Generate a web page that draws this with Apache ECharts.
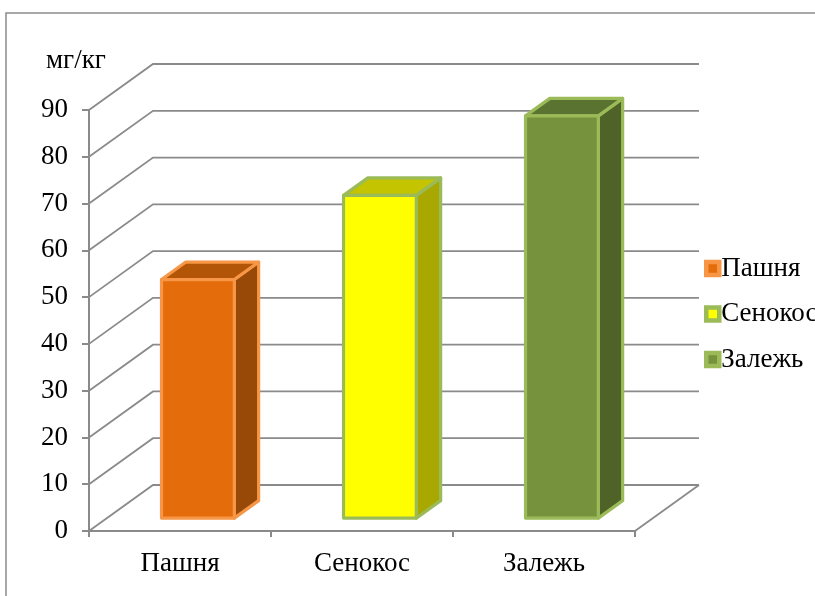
<!DOCTYPE html>
<html>
<head>
<meta charset="utf-8">
<script src="https://cdn.jsdelivr.net/npm/echarts@6/dist/echarts.min.js"></script>
<style>
html,body{margin:0;padding:0;background:#fff;}
#chart{width:815px;height:596px;}
</style>
</head>
<body>
<div id="chart"></div>
<script>
// ---- data ----
const categories = ['Пашня', 'Сенокос', 'Залежь'];
const values = [51, 69, 86];
const yTicks = [0, 10, 20, 30, 40, 50, 60, 70, 80, 90];
const unitLabel = 'мг/кг';

// ---- styles ----
const frontColors = ['#E46C0A', '#FFFF00', '#76923C'];
const topColors = ['#B35507', '#C4C400', '#5B7330'];
const sideColors = ['#984807', '#A8A800', '#4F6228'];
const borderColors = ['#F79646', '#9BBB59', '#9BBB59'];
const FONT = '"Liberation Serif", "Times New Roman", serif';
const FS = 27;
const GRID_COLOR = '#8a8a8a';
const DX = 64, DY = -46;       // wall depth offset in px
const F1 = 0.28, F2 = 0.66;    // bar depth fractions
const BAR_W = 0.4;             // bar width as fraction of band

const chart = echarts.init(document.getElementById('chart'), null, {renderer: 'canvas'});

const wallSeries = {
  type: 'custom',
  name: '__wall',
  z: 1,
  clip: false,
  silent: true,
  data: yTicks.map(v => [0, v]),
  renderItem: function (params, api) {
    const v = api.value(1);
    const c = api.coord([0, v]);
    const bw = api.size([1, 0])[0];
    const left = c[0] - bw / 2;
    const right = left + bw * categories.length;
    const children = [{
      type: 'polyline',
      shape: {points: [[left, c[1]], [left + DX, c[1] + DY], [right + DX, c[1] + DY]]},
      style: {stroke: GRID_COLOR, lineWidth: 1.8, fill: null}
    }];
    if (v === 0) {
      children.push({
        type: 'line',
        shape: {x1: right, y1: c[1], x2: right + DX, y2: c[1] + DY},
        style: {stroke: GRID_COLOR, lineWidth: 1.8}
      });
    }
    return {type: 'group', children: children};
  }
};

function barSeries(i) {
  return {
    type: 'custom',
    name: categories[i],
    z: 5,
    clip: false,
    itemStyle: {color: frontColors[i], borderColor: borderColors[i]},
    data: [[i, values[i]]],
    renderItem: function (params, api) {
      const idx = api.value(0);
      const val = api.value(1);
      const c0 = api.coord([idx, 0]);
      const c1 = api.coord([idx, val]);
      const bw = api.size([1, 0])[0];
      const w = bw * BAR_W;
      const cx = c0[0] + F1 * DX;
      const x0 = cx - w / 2, x1 = cx + w / 2;
      const yb = c0[1] + F1 * DY, yt = c1[1] + F1 * DY;
      const ddx = (F2 - F1) * DX, ddy = (F2 - F1) * DY;
      const stroke = {stroke: borderColors[i], lineWidth: 3.2, lineJoin: 'round'};
      return {
        type: 'group',
        children: [
          {type: 'polygon', shape: {points: [[x1, yt], [x1 + ddx, yt + ddy], [x1 + ddx, yb + ddy], [x1, yb]]},
           style: Object.assign({fill: sideColors[i]}, stroke)},
          {type: 'polygon', shape: {points: [[x0, yt], [x0 + ddx, yt + ddy], [x1 + ddx, yt + ddy], [x1, yt]]},
           style: Object.assign({fill: topColors[i]}, stroke)},
          {type: 'rect', shape: {x: x0, y: yt, width: w, height: yb - yt},
           style: Object.assign({fill: frontColors[i]}, stroke)}
        ]
      };
    }
  };
}

const option = {
  animation: false,
  backgroundColor: '#ffffff',
  graphic: [{
    type: 'rect',
    silent: true,
    shape: {x: 6, y: 13, width: 840, height: 700},
    style: {fill: null, stroke: '#8c8c8c', lineWidth: 1.5}
  }],
  title: {
    text: unitLabel,
    left: 46,
    top: 47,
    padding: 0,
    textStyle: {fontFamily: FONT, fontSize: FS, fontWeight: 'normal', color: '#000'}
  },
  legend: {
    orient: 'vertical',
    left: 699,
    top: 250,
    itemGap: 18.5,
    itemWidth: 13,
    itemHeight: 13,
    icon: 'rect',
    selectedMode: false,
    textStyle: {fontFamily: FONT, fontSize: FS, lineHeight: FS, color: '#000', padding: [0, 0, 0, -3]},
    data: categories.map((n, i) => ({
      name: n,
      icon: 'rect',
      itemStyle: {color: frontColors[i], borderColor: borderColors[i], borderWidth: 4.5}
    }))
  },
  grid: {left: 89, top: 110, width: 546, height: 421, containLabel: false},
  xAxis: {
    type: 'category',
    data: categories,
    boundaryGap: true,
    axisLine: {show: true, lineStyle: {color: GRID_COLOR, width: 2}},
    axisTick: {show: true, length: 6, interval: 0, lineStyle: {color: GRID_COLOR, width: 2}},
    axisLabel: {fontFamily: FONT, fontSize: FS, color: '#000', margin: 19},
    splitLine: {show: false}
  },
  yAxis: {
    type: 'value',
    min: 0,
    max: 90,
    interval: 10,
    axisLine: {show: true, lineStyle: {color: GRID_COLOR, width: 2}},
    axisTick: {show: true, length: 7, lineStyle: {color: GRID_COLOR, width: 2}},
    axisLabel: {fontFamily: FONT, fontSize: FS, color: '#000', margin: 21},
    splitLine: {show: false}
  },
  series: [wallSeries].concat(categories.map((n, i) => barSeries(i)))
};

chart.setOption(option);
</script>
</body>
</html>
